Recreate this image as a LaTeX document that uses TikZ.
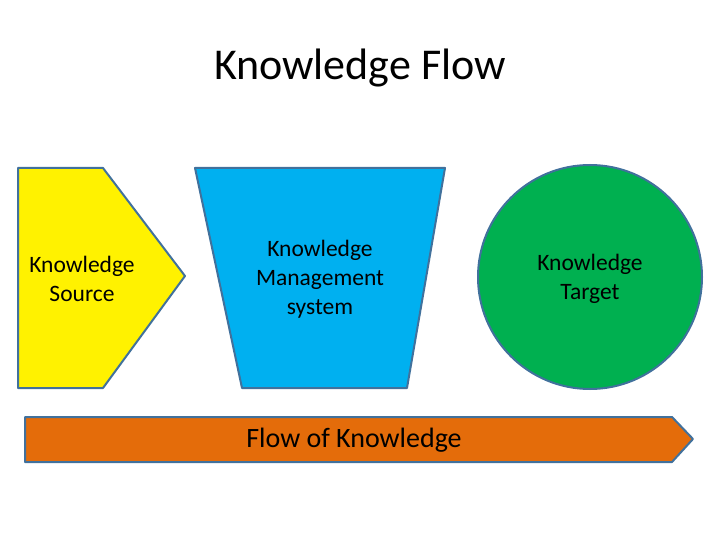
\documentclass[tikz,border=0pt]{standalone}
\usepackage{fontspec}
\setmainfont{Carlito}
\definecolor{edgeblue}{HTML}{41719C}
\definecolor{kmblue}{HTML}{00B0F0}
\definecolor{kmgreen}{HTML}{00B050}
\definecolor{kmorange}{HTML}{E46C0A}
\tikzset{
  part/.style={draw=edgeblue, line width=2pt, line join=round},
  label/.style={align=center, font=\fontsize{23.5}{29}\selectfont}
}
\begin{document}
\begin{tikzpicture}[x=1pt, y=-1pt]
    \useasboundingbox (0,0) rectangle (720,540);

    % Title
    \node[font=\fontsize{44}{50}\selectfont] (title) at (360,68) {Knowledge Flow};

    % Source, management system and target
    \draw[part, fill=yellow] (18,168) -- (103,168) -- (185,276) -- (103,388) -- (18,388) -- cycle;
    \draw[part, fill=kmblue] (195,168) -- (445,168) -- (407,388) -- (242,388) -- cycle;
    \draw[part, fill=kmgreen] (590,277) circle (112);

    \node[label] (source) at (82,279) {Knowledge\\Source};
    \node[label] (kms) at (320,279) {Knowledge\\Management\\system};
    \node[label] (target) at (590,279) {Knowledge\\Target};

    % Flow arrow
    \draw[part, fill=kmorange] (25,417) -- (672,417) -- (693,439) -- (672,462) -- (25,462) -- cycle;
    \node[font=\fontsize{28}{34}\selectfont] (flow) at (354,440) {Flow of Knowledge};
\end{tikzpicture}
\end{document}
